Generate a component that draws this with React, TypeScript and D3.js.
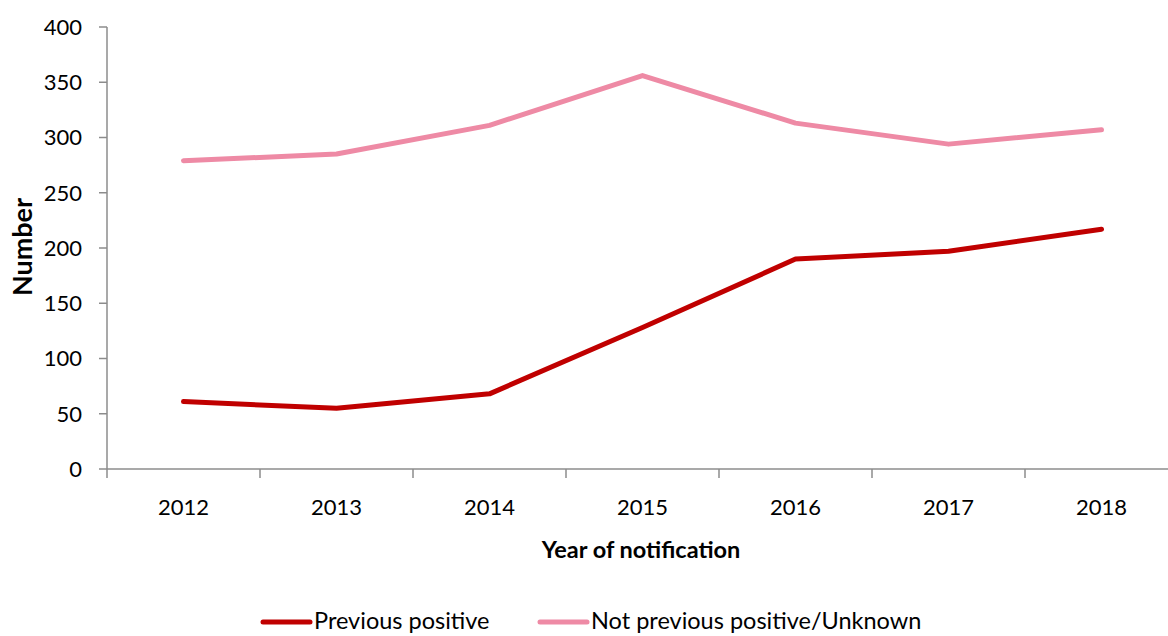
import React from "react";
import * as d3 from "d3";

const years = ["2012", "2013", "2014", "2015", "2016", "2017", "2018"];
const previousPositive = [61, 55, 68, 128, 190, 197, 217];
const notPreviousPositive = [279, 285, 311, 356, 313, 294, 307];
const yTicks = [0, 50, 100, 150, 200, 250, 300, 350, 400];
const seriesNames = ["Previous positive", "Not previous positive/Unknown"];
const seriesColors = ["#C00000", "#EE8AA5"];

const W = 1168;
const H = 636;
const left = 107;
const right = 1178;
const top = 27;
const bottom = 469;
const font = "Lato, 'Open Sans', sans-serif";

export default function App() {
  const x = d3.scaleBand<string>().domain(years).range([left, right]);
  const y = d3.scaleLinear().domain([0, 400]).range([bottom, top]);
  const line = d3
    .line<number>()
    .x((_, i) => (x(years[i]) as number) + x.bandwidth() / 2)
    .y((d) => y(d));
  const series = [previousPositive, notPreviousPositive];
  const boundaries = years.map((yr) => x(yr) as number).concat([right]);
  const legendX = [263, 540];

  return (
    <svg
      width={W}
      height={H}
      style={{ position: "absolute", left: 0, top: 0, background: "#fff" }}
      fontFamily={font}
    >
      {/* y axis */}
      <line x1={left} x2={left} y1={top} y2={bottom} stroke="#8c8c8c" strokeWidth={1.5} />
      {yTicks.map((t) => (
        <g key={t}>
          <line x1={left - 8} x2={left} y1={y(t)} y2={y(t)} stroke="#8c8c8c" strokeWidth={1.5} />
          <text x={left - 25} y={y(t)} dy="0.36em" textAnchor="end" fontSize={22} fill="#000">
            {t}
          </text>
        </g>
      ))}
      {/* x axis */}
      <line x1={left} x2={right} y1={bottom} y2={bottom} stroke="#8c8c8c" strokeWidth={1.5} />
      {boundaries.map((b, i) => (
        <line key={i} x1={b} x2={b} y1={bottom} y2={bottom + 9} stroke="#8c8c8c" strokeWidth={1.5} />
      ))}
      {years.map((yr) => (
        <text
          key={yr}
          x={(x(yr) as number) + x.bandwidth() / 2}
          y={515}
          textAnchor="middle"
          fontSize={22}
          fill="#000"
        >
          {yr}
        </text>
      ))}
      {/* lines */}
      {series.map((s, i) => (
        <path
          key={i}
          d={line(s) as string}
          fill="none"
          stroke={seriesColors[i]}
          strokeWidth={5}
          strokeLinecap="round"
          strokeLinejoin="round"
        />
      ))}
      {/* axis titles */}
      <text x={641} y={558} textAnchor="middle" fontSize={23.5} fontWeight="bold" fill="#000">
        Year of notification
      </text>
      <text
        transform="translate(32,247) rotate(-90)"
        textAnchor="middle"
        fontSize={27}
        fontWeight="bold"
        fill="#000"
      >
        Number
      </text>
      {/* legend */}
      {legendX.map((lx, i) => (
        <g key={i}>
          <line
            x1={lx}
            x2={lx + 47}
            y1={622}
            y2={622}
            stroke={seriesColors[i]}
            strokeWidth={5}
            strokeLinecap="round"
          />
          <text x={lx + 51} y={629} fontSize={23.5} fill="#000">
            {seriesNames[i]}
          </text>
        </g>
      ))}
    </svg>
  );
}
